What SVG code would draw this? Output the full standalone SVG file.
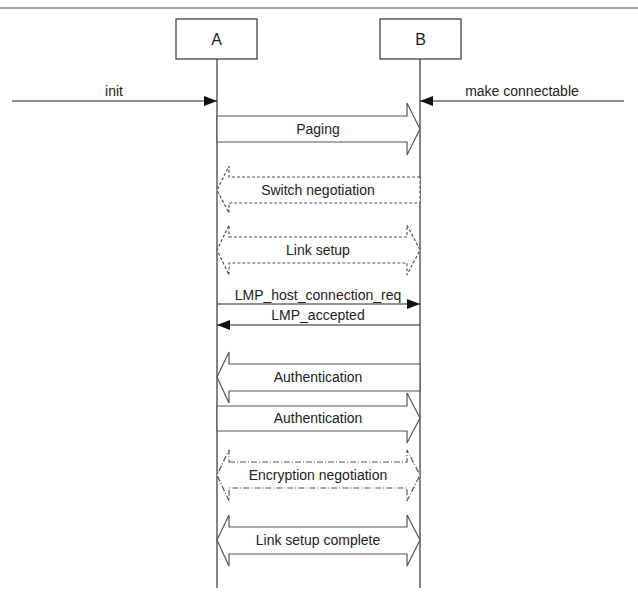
<svg xmlns="http://www.w3.org/2000/svg" width="638" height="598" viewBox="0 0 638 598">
<style>
text{font-family:"Liberation Sans",Arial,sans-serif;font-size:14px;fill:#222;text-anchor:middle}
.box{fill:#fff;stroke:#333;stroke-width:1.2}
.life{stroke:#333;stroke-width:1.2;fill:none}
.msg{stroke:#222;stroke-width:1.2;fill:none}
.blk{fill:#fff;stroke:#555;stroke-width:1.2}
.dash{stroke-dasharray:3,2}
.dashdot{stroke-dasharray:6,2,1,2}
.title{font-size:16px}
</style>
<defs>
<marker id="ah" markerWidth="13" markerHeight="10" refX="13" refY="5" orient="auto" markerUnits="userSpaceOnUse">
<path d="M0,0 L13,5 L0,10 Z" fill="#111"/>
</marker>
</defs>
<rect width="638" height="598" fill="#fff"/>
<line x1="0" y1="8" x2="638" y2="8" stroke="#444" stroke-width="1.2"/>
<g id="nodeA">
<rect class="box" x="176" y="19" width="81" height="40"/>
<text class="title" x="216.5" y="45">A</text>
<line class="life" x1="217" y1="59" x2="217" y2="588"/>
</g>
<g id="nodeB">
<rect class="box" x="380" y="19" width="81" height="40"/>
<text class="title" x="420.5" y="45">B</text>
<line class="life" x1="420" y1="59" x2="420" y2="588"/>
</g>
<g id="connectors">
<line class="msg" x1="12" y1="101" x2="217" y2="101" marker-end="url(#ah)"/>
<text x="114" y="96">init</text>
<line class="msg" x1="624" y1="101" x2="420" y2="101" marker-end="url(#ah)"/>
<text x="522" y="96">make connectable</text>

<polygon class="blk" points="217,116 407,116 407,103 420,129 407,155 407,142 217,142"/>
<text x="318" y="134">Paging</text>

<polygon class="blk dash" points="420,177 229,177 229,166 217,190 229,213 229,203 420,203"/>
<text x="318" y="195">Switch negotiation</text>

<polygon class="blk dash" points="229,237 407,237 407,225 420,250 407,275 407,263 229,263 229,275 217,250 229,225"/>
<text x="318" y="255">Link setup</text>

<line class="msg" x1="217" y1="304" x2="420" y2="304" marker-end="url(#ah)"/>
<text x="318" y="300">LMP_host_connection_req</text>
<line class="msg" x1="420" y1="325" x2="217" y2="325" marker-end="url(#ah)"/>
<text x="318" y="320">LMP_accepted</text>

<polygon class="blk" points="420,364 229,364 229,352 217,377 229,403 229,391 420,391"/>
<text x="318" y="382">Authentication</text>

<polygon class="blk" points="217,406 407,406 407,393 420,418 407,443 407,431 217,431"/>
<text x="318" y="423">Authentication</text>

<polygon class="blk dashdot" points="229,462 407,462 407,450 420,475 407,501 407,488 229,488 229,501 217,475 229,450"/>
<text x="318" y="480">Encryption negotiation</text>

<polygon class="blk" points="229,527 407,527 407,515 420,540 407,566 407,554 229,554 229,566 217,540 229,515"/>
<text x="318" y="545">Link setup complete</text>
</g>
</svg>
